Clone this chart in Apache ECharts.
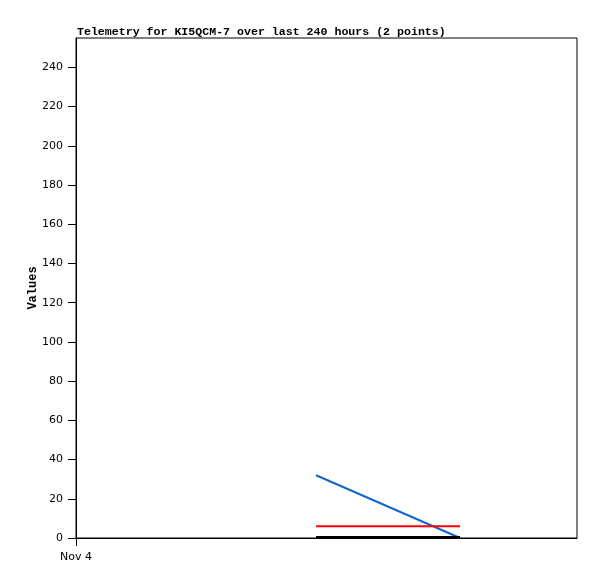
<!DOCTYPE html>
<html>
<head>
<meta charset="utf-8">
<script src="https://cdn.jsdelivr.net/npm/echarts@6/dist/echarts.min.js"></script>
<style>
  html, body { margin: 0; padding: 0; background: #fff; }
  #chart { width: 597px; height: 579px; }
</style>
</head>
<body>
<div id="chart"></div>
<script>
// hours since the start of the window (Nov 4), 240 hours shown
const hours = [115, 184];
const blueValues = [32, 0];
const redValues = [6, 6];
const blackValues = [0.5, 0.5];
const yTicks = [0, 20, 40, 60, 80, 100, 120, 140, 160, 180, 200, 220, 240];
const xTicks = [0];
const xTickLabels = { 0: 'Nov 4' };

const pairs = (xs, ys) => xs.map((x, i) => [x, ys[i]]);

const chart = echarts.init(document.getElementById('chart'));
// 图表配置
const option = {
  animation: false,
  title: {
    text: 'Telemetry for KI5QCM-7 over last 240 hours (2 points)',
    left: 72,
    top: 21,
    textStyle: { fontFamily: 'Liberation Mono', fontWeight: 'bold', fontSize: 11.6, color: '#000' }
  },
  grid: {
    left: 76, right: 20, top: 38, bottom: 41,
    show: true, borderColor: '#000', borderWidth: 1, backgroundColor: '#fff'
  },
  xAxis: {
    type: 'value',
    min: 0,
    max: 240,
    splitLine: { show: false },
    axisLine: { lineStyle: { color: '#000', width: 1 } },
    axisTick: { customValues: xTicks, length: 8, lineStyle: { color: '#000' } },
    axisLabel: {
      customValues: xTicks,
      formatter: v => xTickLabels[v] || '',
      color: '#000', fontFamily: 'DejaVu Sans', fontSize: 11, margin: 14
    }
  },
  yAxis: {
    type: 'value',
    min: 0,
    max: 255,
    name: 'Values',
    nameLocation: 'middle',
    nameGap: 37,
    nameMoveOverlap: false,
    nameTextStyle: { fontFamily: 'Liberation Mono', fontWeight: 'bold', fontSize: 12, color: '#000' },
    splitLine: { show: false },
    axisLine: { show: true, lineStyle: { color: '#000', width: 1 } },
    axisTick: { show: true, customValues: yTicks, length: 8, lineStyle: { color: '#000' } },
    axisLabel: {
      customValues: yTicks,
      color: '#000', fontFamily: 'DejaVu Sans', fontSize: 11, margin: 13
    }
  },
  series: [
    { type: 'line', data: pairs(hours, blueValues), showSymbol: false,
      lineStyle: { color: '#1166cc', width: 2 } },
    { type: 'line', data: pairs(hours, redValues), showSymbol: false,
      lineStyle: { color: '#ff0000', width: 2 } },
    { type: 'line', data: pairs(hours, blackValues), showSymbol: false,
      lineStyle: { color: '#000000', width: 2 } }
  ]
};
chart.setOption(option);
</script>
</body>
</html>
